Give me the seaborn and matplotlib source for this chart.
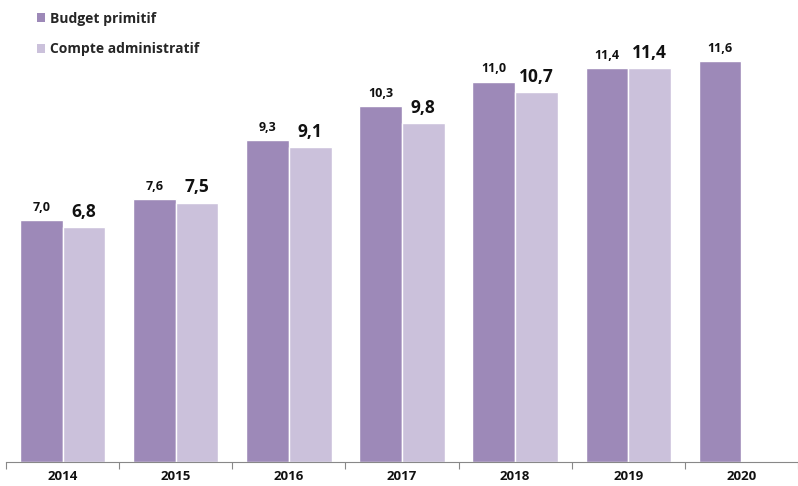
import matplotlib
matplotlib.use("Agg")
import matplotlib.pyplot as plt
import seaborn as sns
import pandas as pd
import numpy as np
from matplotlib.patches import Patch

years = ["2014", "2015", "2016", "2017", "2018", "2019", "2020"]
budget = [7.0, 7.6, 9.3, 10.3, 11.0, 11.4, 11.6]
compte = [6.8, 7.5, 9.1, 9.8, 10.7, 11.4, np.nan]
series = ["Budget primitif", "Compte administratif"]
colors = ["#9D89B8", "#CBC1DB"]

df = pd.DataFrame({
    "year": years * 2,
    "value": budget + compte,
    "serie": [series[0]] * len(years) + [series[1]] * len(years),
}).dropna()

sns.set_theme(style="white")
plt.rcParams["font.family"] = ["Open Sans", "DejaVu Sans"]

fig = plt.figure(figsize=(7.98, 4.86), dpi=100)
ax = fig.add_axes([6 / 798, 24 / 486, 792 / 798, 462 / 486])

sns.barplot(data=df, x="year", y="value", hue="serie", order=years,
            hue_order=series, palette=colors, width=0.755, gap=0,
            saturation=1, ax=ax, legend=False, errorbar=None)

ax.set_xlim(-0.5, -0.5 + 792 / 114.0)
ax.set_ylim(0, 462 / 34.57)

fs = [9, 12.5]
for i, cont in enumerate(ax.containers):
    bars = [b for b in cont if b is not None]
    for b in bars:
        h = b.get_height()
        if np.isnan(h):
            continue
        ax.annotate(f"{h:.1f}".replace(".", ","),
                    (b.get_x() + b.get_width() / 2, h),
                    xytext=(0, 4.5), textcoords="offset points",
                    ha="center", va="bottom", fontsize=fs[i],
                    fontweight="bold", color="#111111")

for s in ["top", "right", "left"]:
    ax.spines[s].set_visible(False)
ax.spines["bottom"].set_color("#888888")
ax.spines["bottom"].set_linewidth(0.8)
ax.set_yticks([])
ax.set_xlabel("")
ax.set_ylabel("")
ax.set_xticks(range(len(years)))
ax.set_xticklabels(years, fontsize=9.5, fontweight="bold", color="#111111")
ax.set_xticks(np.arange(-0.5, len(years) + 0.5, 1), minor=True)
ax.tick_params(axis="x", which="major", length=0, pad=6)
ax.tick_params(axis="x", which="minor", length=5, width=0.8, color="#888888", bottom=True)

handles = [Patch(facecolor=c, edgecolor="none") for c in colors]
fig.legend(handles, series, loc="upper left", bbox_to_anchor=(24 / 798, 1 + 1 / 486),
           frameon=False, handlelength=0.6, handleheight=0.6, handletextpad=0.4,
           labelspacing=1.2, prop={"weight": "bold", "size": 10})

fig.savefig("out.png", dpi=100)
